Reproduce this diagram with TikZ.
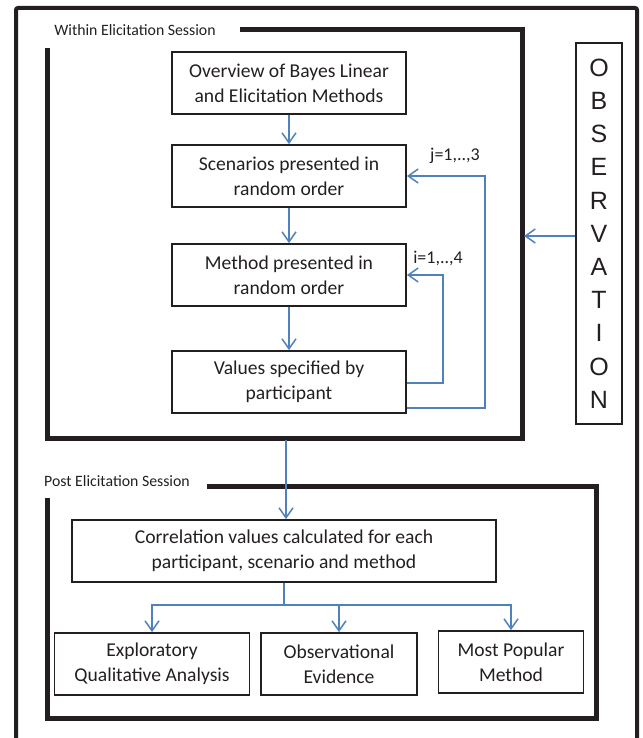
\documentclass[tikz,border=0pt]{standalone}
\usepackage{fontspec}
\setmainfont{Carlito}
\newfontfamily\obsfont{Liberation Sans}
\usetikzlibrary{arrows.meta}
\definecolor{flowblue}{HTML}{4F81BD}
\definecolor{ink}{HTML}{231F20}
\begin{document}
\begin{tikzpicture}[x=1pt,y=-1pt,
    box/.style={draw=ink,line width=1.8,minimum height=62,align=center,text=ink,
                font=\fontsize{19.6}{25}\selectfont},
    frame/.style={draw=ink,line width=5},
    tag/.style={text=ink,font=\fontsize{15.8}{18}\selectfont},
    flow/.style={draw=flowblue,line width=1.5,-{Straight Barb[length=10pt,width=14pt]}}]
    \useasboundingbox (0,0) rectangle (642,738);
    % frames
    \draw[draw=ink,line width=4,rounded corners=2] (16,738) -- (16,8) -- (637,8) -- (637,738);
    \draw[frame] (240,30) -- (522,30) -- (522,438) -- (47,438) -- (47,48);
    \draw[frame] (207,486) -- (596,486) -- (596,718) -- (47,718) -- (47,498);
    \node[tag] (wtag) at (135,30) {Within Elicitation Session};
    \node[tag] (ptag) at (117,481) {Post Elicitation Session};
    % elicitation steps
    \node[box,minimum width=234] (overview) at (289,83) {Overview of Bayes Linear\\and Elicitation Methods};
    \node[box,minimum width=234] (scenarios) at (289,176) {Scenarios presented in\\random order};
    \node[box,minimum width=234] (method) at (289,275) {Method presented in\\random order};
    \node[box,minimum width=234] (values) at (289,382) {Values specified by\\participant};
    \node[box,minimum width=46,minimum height=381,inner sep=0,
          font=\obsfont\fontsize{25}{33.2}\selectfont] (observ) at (599,233.5)
          {O\\B\\S\\E\\R\\V\\A\\T\\I\\O\\N};
    % analysis
    \node[box,minimum width=424] (correl) at (284,551) {Correlation values calculated for each\\participant, scenario and method};
    \node[box,minimum width=195] (explor) at (152,664) {Exploratory\\Qualitative Analysis};
    \node[box,minimum width=156] (evid) at (339,664) {Observational\\Evidence};
    \node[box,minimum width=145] (popular) at (511,662) {Most Popular\\Method};
    \coordinate (wright) at (524,0);
    \coordinate (wbottom) at (286,440);
    \draw[flow] (overview) -- (scenarios);
    \draw[flow] (scenarios) -- (method);
    \draw[flow] (method) -- (values);
    \draw[flow] ([yshift=-1]values.east) -- ++(36,0) |- (method.east);
    \draw[flow] ([yshift=-26]values.east) -- ++(78,0) |- (scenarios.east);
    \node[tag,font=\fontsize{18}{20}\selectfont] (iloop) at (438,258) {i=1,..,4};
    \node[tag,font=\fontsize{18}{20}\selectfont] (jloop) at (455,156) {j=1,..,3};
    \draw[flow] ([yshift=-2.5]observ.west) -- ([yshift=-2.5]observ.west -| wright);
    \draw[flow] (wbottom) -- (wbottom |- correl.north);
    \draw[flow] (correl.south) -- ++(0,22) -| (explor.north);
    \draw[flow] (correl.south) -- ++(0,22) -| (evid.north);
    \draw[flow] (correl.south) -- ++(0,22) -| (popular.north);
\end{tikzpicture}
\end{document}
